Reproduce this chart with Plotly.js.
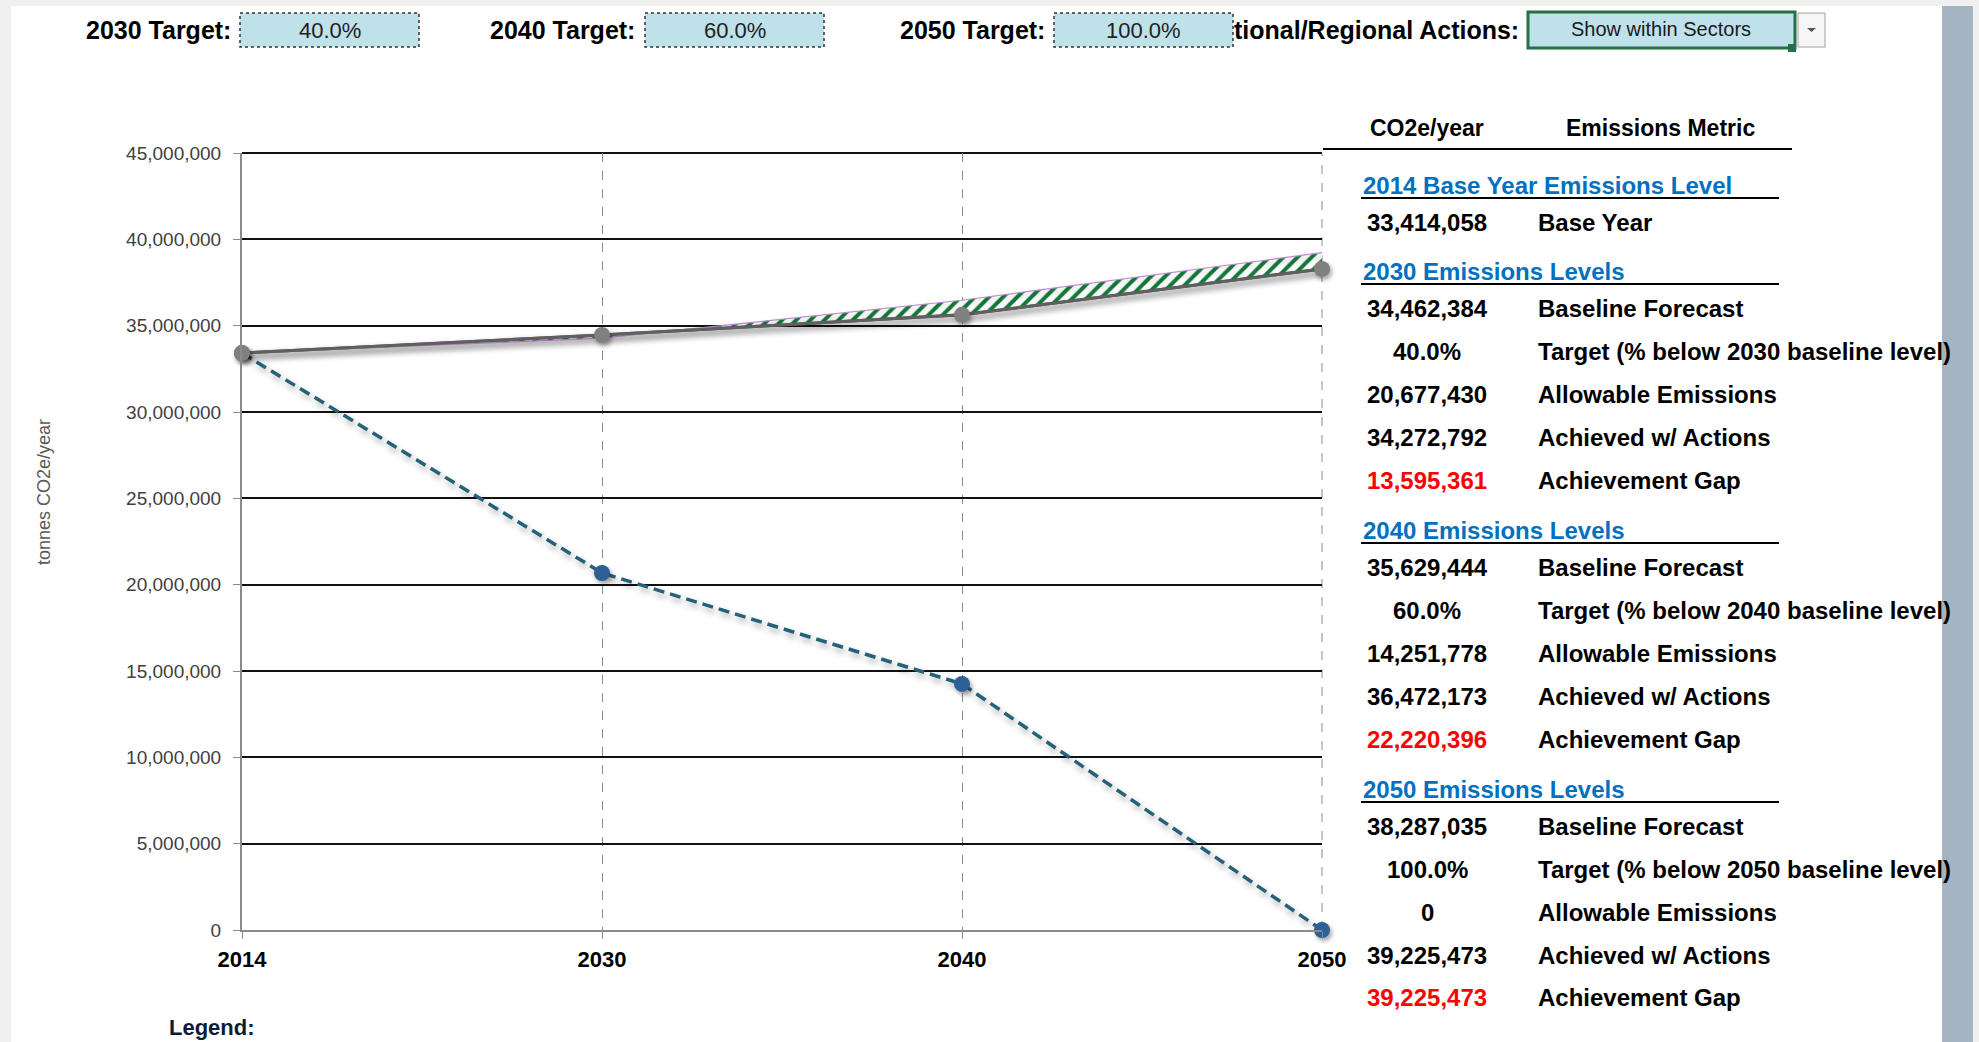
<!DOCTYPE html>
<html>
<head>
<meta charset="utf-8">
<script src="https://cdn.plot.ly/plotly-3.0.1.min.js"></script>
<style>
  html, body { margin: 0; padding: 0; background: #ffffff; }
  #chart { width: 1979px; height: 1042px; }
  .scatterlayer .trace .js-line { filter: drop-shadow(2px 4px 3px rgba(0,0,0,0.35)); }
  .scatterlayer .trace .points path { filter: drop-shadow(2px 3px 2px rgba(0,0,0,0.35)); }
</style>
</head>
<body>
<div id="chart"></div>
<script>
// ---------------- DATA ----------------
const years = ['2014', '2030', '2040', '2050'];
const baselineForecast = [33414058, 34462384, 35629444, 38287035];
const allowableEmissions = [33414058, 20677430, 14251778, 0];
const achievedWithActions = [33414058, 34272792, 36472173, 39225473];
const targetPct = [40.0, 60.0, 100.0];          // 2030, 2040, 2050
const targetYears = ['2030', '2040', '2050'];
const achievementGap = [13595361, 22220396, 39225473];
const yTickVals = [0, 5000000, 10000000, 15000000, 20000000, 25000000, 30000000, 35000000, 40000000, 45000000];
const yAxisTitle = 'tonnes CO2e/year';
const actionsSetting = 'Show within Sectors';

// ---------------- LAYOUT HELPERS (pixel -> paper) ----------------
const L = 242, R = 1322, T = 153, B = 930;
const PX = px => (px - L) / (R - L);
const PY = py => (B - py) / (B - T);
const FONT = 'Liberation Sans, Arial, Helvetica, sans-serif';
const fmt = v => v.toLocaleString('en-US');
const pct = v => v.toFixed(1) + '%';

const annotations = [];
const shapes = [];
function ann(text, px, py, o) {
  o = o || {};
  annotations.push({
    text: text, xref: 'paper', yref: 'paper', x: PX(px), y: PY(py),
    xanchor: o.xa || 'left', yanchor: 'middle', showarrow: false,
    textangle: o.angle || 0,
    font: { family: FONT, size: o.size || 24, color: o.color || '#000000', weight: o.weight || 700 }
  });
}
function rect(x0, y0, x1, y1, o) {
  shapes.push({
    type: 'rect', xref: 'paper', yref: 'paper', layer: o.layer || 'above',
    x0: PX(x0), x1: PX(x1), y0: PY(y0), y1: PY(y1),
    fillcolor: o.fill || 'rgba(0,0,0,0)',
    line: { color: o.lc || 'rgba(0,0,0,0)', width: o.lw || 0, dash: o.dash || 'solid' }
  });
}
function hline(x0, x1, y, color, w) {
  shapes.push({ type: 'line', xref: 'paper', yref: 'paper', layer: 'above',
    x0: PX(x0), x1: PX(x1), y0: PY(y), y1: PY(y), line: { color: color, width: w } });
}

// ---------------- PAGE FRAME ----------------
rect(0, 0, 11, 1042, { fill: '#f0f0ef', layer: 'below' });
rect(0, 0, 1979, 6, { fill: '#f0f0ef', layer: 'below' });
rect(1942, 6, 1973, 1042, { fill: '#a5b4c3', layer: 'below' });
rect(1973, 6, 1979, 1042, { fill: '#eef0f2', layer: 'below' });

// plot-area edge lines that Plotly leaves out at the range ends
shapes.push({ type: 'line', xref: 'paper', yref: 'paper', layer: 'below',
  x0: 0, x1: 1, y0: 1, y1: 1, line: { color: '#111111', width: 2 } });
shapes.push({ type: 'line', xref: 'paper', yref: 'paper', layer: 'below',
  x0: 1, x1: 1, y0: 0, y1: 1, line: { color: '#8a8a8a', width: 1, dash: 'dash' } });

// ---------------- TOP CONTROLS ----------------
const boxX = [[240, 419], [645, 824], [1054, 1233]];
const labelRight = [233, 637, 1047];
targetYears.forEach((yr, i) => {
  ann(yr + ' Target:', labelRight[i], 30, { xa: 'right', size: 25 });
  rect(boxX[i][0], 13, boxX[i][1], 47, { fill: '#bee1ea', lc: '#333333', lw: 1.5, dash: 'dot' });
  ann(pct(targetPct[i]), (boxX[i][0] + boxX[i][1]) / 2, 30, { xa: 'center', size: 22, weight: 400, color: '#222222' });
});
ann('tional/Regional Actions:', 1521, 30, { xa: 'right', size: 25 });
rect(1528, 12, 1795, 48, { fill: '#bee1ea', lc: '#217346', lw: 3 });
rect(1788, 44, 1796, 52, { fill: '#217346' });
rect(1798, 13, 1825, 47, { fill: '#f6f6f6', lc: '#a0a0a0', lw: 1 });
shapes.push({ type: 'path', xref: 'paper', yref: 'paper', layer: 'above',
  path: 'M ' + PX(1807) + ' ' + PY(28) + ' L ' + PX(1816) + ' ' + PY(28) + ' L ' + PX(1811.5) + ' ' + PY(32) + ' Z',
  fillcolor: '#555555', line: { width: 0 } });
ann(actionsSetting, 1661, 29, { xa: 'center', size: 20, weight: 400, color: '#1a1a1a' });

// ---------------- Y AXIS TITLE ----------------
ann(yAxisTitle, 44, 492, { xa: 'center', size: 18, weight: 400, color: '#595959', angle: -90 });

// ---------------- TABLE ----------------
ann('CO2e/year', 1427, 128, { xa: 'center', size: 23 });
ann('Emissions Metric', 1660, 128, { xa: 'center', size: 23 });
hline(1323, 1792, 149, '#000000', 2);

const valX = 1427, labX = 1536, secX = 1361;
function section(title, y) {
  ann(title, secX, y, { size: 24, color: '#0070c0' });
  hline(secX, 1779, y + 13, '#000000', 2);
}
section(years[0] + ' Base Year Emissions Level', 185);
ann(fmt(baselineForecast[0]), valX, 222, { xa: 'center' });
ann('Base Year', labX, 222);

const secTops = [271, 530, 789];
targetYears.forEach((yr, i) => {
  const y0 = secTops[i];
  const k = i + 1;
  section(yr + ' Emissions Levels', y0);
  const rows = [
    [fmt(baselineForecast[k]), 'Baseline Forecast', '#000000'],
    [pct(targetPct[i]), 'Target (% below ' + yr + ' baseline level)', '#000000'],
    [fmt(allowableEmissions[k]), 'Allowable Emissions', '#000000'],
    [fmt(achievedWithActions[k]), 'Achieved w/ Actions', '#000000'],
    [fmt(achievementGap[i]), 'Achievement Gap', '#ff0000']
  ];
  rows.forEach((r, j) => {
    const y = y0 + 37 + j * 43;
    ann(r[0], valX, y, { xa: 'center', color: r[2] });
    ann(r[1], labX, y);
  });
});

ann('Legend:', 167, 1027, { size: 22, color: '#0d1b3a' });

// ---------------- TRACES ----------------
const traces = [
  {
    name: 'Allowable Emissions', x: years, y: allowableEmissions, type: 'scatter', mode: 'lines+markers',
    line: { color: '#25627a', width: 3.5, dash: '11px,6px' },
    marker: { color: '#2d6096', size: 16 }, cliponaxis: false, hoverinfo: 'x+y'
  },
  {
    name: 'Baseline Forecast', x: years, y: baselineForecast, type: 'scatter', mode: 'lines',
    line: { color: '#5f5f5f', width: 3 }, hoverinfo: 'skip'
  },
  {
    name: 'Achieved w/ Actions', x: years, y: achievedWithActions, type: 'scatter', mode: 'lines',
    fill: 'tonexty', fillcolor: 'rgba(0,0,0,0)',
    fillpattern: { shape: '/', fgcolor: '#137a3a', bgcolor: '#ffffff', size: 10, solidity: 0.4 },
    line: { color: '#c08ad0', width: 1.2 }, hoverinfo: 'x+y'
  },
  {
    name: 'Baseline Forecast', x: years, y: baselineForecast, type: 'scatter', mode: 'lines+markers',
    line: { color: '#5f5f5f', width: 3 },
    marker: { color: '#808080', size: 16 }, cliponaxis: false, hoverinfo: 'x+y'
  }
];

const layout = {
  width: 1979, height: 1042,
  margin: { l: L, r: 1979 - R, t: T, b: 1042 - B, pad: 0 },
  paper_bgcolor: '#ffffff', plot_bgcolor: '#ffffff',
  showlegend: false,
  font: { family: FONT },
  xaxis: {
    type: 'category', range: [0, 3], categoryorder: 'array', categoryarray: years,
    showgrid: true, gridcolor: '#8a8a8a', gridwidth: 1, griddash: 'dash',
    showline: true, linecolor: '#8a8a8a', linewidth: 2,
    ticks: 'outside', ticklen: 7, tickcolor: '#8a8a8a', tickwidth: 1,
    ticklabelstandoff: 2,
    tickfont: { family: FONT, size: 22, color: '#000000', weight: 700 },
    zeroline: false, fixedrange: true
  },
  yaxis: {
    range: [0, 45000000], tickvals: yTickVals, tickformat: ',d',
    showgrid: true, gridcolor: '#111111', gridwidth: 2,
    showline: true, linecolor: '#8a8a8a', linewidth: 2,
    ticks: 'outside', ticklen: 7, tickcolor: '#8a8a8a', tickwidth: 1,
    ticklabelstandoff: 8,
    tickfont: { family: FONT, size: 19, color: '#404040' },
    zeroline: false, fixedrange: true
  },
  annotations: annotations,
  shapes: shapes
};

Plotly.newPlot('chart', traces, layout, { displayModeBar: false, staticPlot: true });
</script>
</body>
</html>
